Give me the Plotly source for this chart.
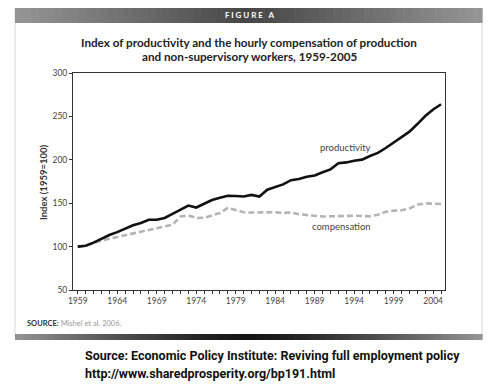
import plotly.graph_objects as go

years = [1959, 1960, 1961, 1962, 1963, 1964, 1965, 1966, 1967, 1968,
         1969, 1970, 1971, 1972, 1973, 1974, 1975, 1976, 1977, 1978,
         1979, 1980, 1981, 1982, 1983, 1984, 1985, 1986, 1987, 1988,
         1989, 1990, 1991, 1992, 1993, 1994, 1995, 1996, 1997, 1998,
         1999, 2000, 2001, 2002, 2003, 2004, 2005]

productivity = [100, 101, 104.6, 109.4, 113.3, 116.7, 120.5, 124.6, 127.2, 131.0,
                130.9, 133.0, 137.6, 142.6, 147.3, 145.0, 149.0, 153.6, 156.4, 158.5,
                158.3, 157.8, 159.6, 157.6, 165.6, 169.0, 171.7, 176.5, 177.8, 180.5,
                182.0, 185.6, 189.0, 196.0, 197.0, 199.0, 200.2, 204.4, 208.0, 213.6,
                219.7, 226.0, 232.4, 241.2, 250.5, 258.0, 264.0]

compensation = [100, 100.8, 104.0, 107.0, 109.0, 111.2, 113.5, 115.4, 117.2, 119.2,
                121.2, 123.0, 125.2, 134.6, 135.8, 133.0, 133.2, 136.0, 138.6, 144.6,
                142.3, 139.6, 139.2, 139.6, 139.6, 139.6, 138.7, 139.4, 137.3, 136.4,
                136.0, 134.6, 134.9, 135.3, 135.6, 135.6, 135.3, 134.9, 136.8, 140.0,
                141.4, 141.9, 144.0, 148.3, 149.8, 149.5, 149.0]

x_ticks = [1959, 1964, 1969, 1974, 1979, 1984, 1989, 1994, 1999, 2004]
y_ticks = [50, 100, 150, 200, 250, 300]

# page body adds an 8px offset; compensate so the picture lands at the target pixels
OFF = 8
W, H = 499 - OFF, 390 - OFF
L, R, T, B = 73, 445, 73, 290  # plot area in target-page pixels


def px(x):
    return (x - L) / (R - L)


def py(y):
    return (B - y) / (B - T)


fig = go.Figure()
fig.add_trace(go.Scatter(x=years, y=compensation, mode="lines",
                         line=dict(color="#b4b4b4", width=2.6, dash="6px,3px"),
                         name="compensation", showlegend=False, hoverinfo="skip"))
fig.add_trace(go.Scatter(x=years, y=productivity, mode="lines",
                         line=dict(color="#111111", width=2.6),
                         name="productivity", showlegend=False, hoverinfo="skip"))

shapes = []
shapes.append(dict(type="rect", xref="paper", yref="paper",
                   x0=px(15), x1=px(482), y0=py(337), y1=py(8),
                   line=dict(color="#d8d8d8", width=1), fillcolor="rgba(0,0,0,0)", layer="below"))
n = 60
x_start, x_end = 15, 482
for i in range(n):
    a = x_start + (x_end - x_start) * i / n
    b = x_start + (x_end - x_start) * (i + 1) / n + 0.6
    t = (i + 0.5) / n
    d = abs(t - 0.5) * 2
    c = int(70 + 80 * d)
    shapes.append(dict(type="rect", xref="paper", yref="paper",
                       x0=px(a), x1=px(b), y0=py(23), y1=py(8),
                       line=dict(width=0), fillcolor=f"rgb({c},{c},{c})", layer="below"))
for i in range(n):
    a = x_start + (x_end - x_start) * i / n
    b = x_start + (x_end - x_start) * (i + 1) / n + 0.6
    t = (i + 0.5) / n
    d = abs(t - 0.5) * 2
    c = int(20 + 130 * d ** 1.3)
    shapes.append(dict(type="rect", xref="paper", yref="paper",
                       x0=px(a), x1=px(b), y0=py(340), y1=py(334),
                       line=dict(width=0), fillcolor=f"rgb({c},{c},{c})", layer="below"))

ann = []
ann.append(dict(text="<b>F I G U R E   A</b>", x=px(249), y=py(15.5), xref="paper", yref="paper",
                showarrow=False, font=dict(family="Lato", size=8, color="white"),
                xanchor="center", yanchor="middle"))
ann.append(dict(text="<b>Index of productivity and the hourly compensation of production</b>",
                x=px(249), y=py(42), xref="paper", yref="paper", showarrow=False,
                font=dict(family="Lato", size=11.7, color="#222"), xanchor="center", yanchor="middle"))
ann.append(dict(text="<b>and non-supervisory workers, 1959-2005</b>",
                x=px(249), y=py(55.5), xref="paper", yref="paper", showarrow=False,
                font=dict(family="Lato", size=11.7, color="#222"), xanchor="center", yanchor="middle"))
ann.append(dict(text="<b>Index (1959=100)</b>", x=px(43), y=py(183), xref="paper", yref="paper",
                showarrow=False, textangle=-90, font=dict(family="Lato", size=9.5, color="#333"),
                xanchor="center", yanchor="middle"))
ann.append(dict(text="productivity", x=px(345), y=py(147), xref="paper", yref="paper",
                showarrow=False, font=dict(family="Lato", size=9.5, color="#444"),
                xanchor="center", yanchor="middle"))
ann.append(dict(text="compensation", x=px(341), y=py(226), xref="paper", yref="paper",
                showarrow=False, font=dict(family="Lato", size=9.5, color="#444"),
                xanchor="center", yanchor="middle"))
ann.append(dict(text="<b>SOURCE:</b> <span style='color:#999'>Mishel et al. 2006.</span>",
                x=px(25), y=py(323), xref="paper", yref="paper", showarrow=False,
                font=dict(family="Lato", size=7.5, color="#333"), xanchor="left", yanchor="middle"))
ann.append(dict(text="<b>Source: Economic Policy Institute: Reviving full employment policy</b>",
                x=px(83), y=py(355), xref="paper", yref="paper", showarrow=False,
                font=dict(family="Roboto", size=12.5, color="#111"), xanchor="left", yanchor="middle"))
ann.append(dict(text="<b>http://www.sharedprosperity.org/bp191.html</b>",
                x=px(83), y=py(373), xref="paper", yref="paper", showarrow=False,
                font=dict(family="Roboto", size=12.5, color="#111"), xanchor="left", yanchor="middle"))

fig.update_layout(
    width=W, height=H,
    margin=dict(l=L - OFF, r=499 - R, t=T - OFF, b=390 - B),
    paper_bgcolor="white", plot_bgcolor="white",
    shapes=shapes, annotations=ann,
    xaxis=dict(range=[1958.4, 2005.5], tickvals=x_ticks, ticks="outside", ticklen=3,
               tickcolor="#333", showline=True, linecolor="#333", linewidth=1, mirror=True,
               showgrid=False, zeroline=False,
               tickfont=dict(family="Lato", size=8.5, color="#444"),
               minor=dict(dtick=1, tick0=1959, ticks="outside", ticklen=3, tickcolor="#333", showgrid=False)),
    yaxis=dict(range=[50, 300], tickvals=y_ticks, ticks="outside", ticklen=3,
               tickcolor="#333", showline=True, linecolor="#333", linewidth=1, mirror=True,
               showgrid=False, zeroline=False,
               tickfont=dict(family="Lato", size=8.5, color="#444")),
)

fig.write_html("out.html")
